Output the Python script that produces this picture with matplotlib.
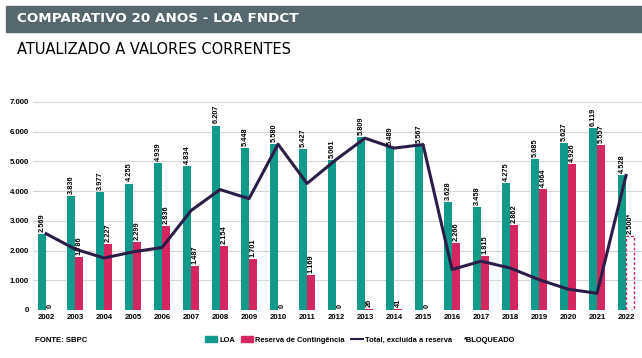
import numpy as np
import matplotlib.pyplot as plt
from matplotlib.patches import Rectangle
from matplotlib.lines import Line2D

# dados (R$ milhões)
anos = [str(a) for a in range(2002, 2023)]
loa = [2569, 3836, 3977, 4255, 4939, 4834, 6207, 5448, 5580, 5427, 5061,
       5809, 5489, 5567, 3628, 3458, 4275, 5085, 5627, 6119, 4528]
reserva = [0, 1786, 2227, 2299, 2836, 1487, 2154, 1701, 0, 1169, 0,
           26, 41, 0, 2266, 1815, 2862, 4064, 4926, 5557]
bloqueado_2022 = 2500
total_sem_reserva = [2569, 2050, 1750, 1956, 2103, 3347, 4053, 3747, 5580, 4258, 5061,
                     5783, 5448, 5567, 1362, 1643, 1413, 1021, 701, 562, 4528]

verde = '#11998a'
rosa = '#d5275f'
azul = '#2b1d47'
cinza = '#56686d'

plt.rcParams['font.family'] = ['Liberation Sans', 'DejaVu Sans']

fig = plt.figure(figsize=(6.42, 3.58), dpi=100)

# faixa do titulo
fig.patches.append(Rectangle((6 / 642, 1 - 32 / 358), 636 / 642, 26 / 358,
                             transform=fig.transFigure, color=cinza, zorder=0))
fig.text(17 / 642, 1 - 19 / 358, 'COMPARATIVO 20 ANOS - LOA FNDCT', color='white',
         fontsize=9.7, fontweight='bold', va='center', ha='left', family='DejaVu Sans')
fig.text(17 / 642, 1 - 50 / 358, 'ATUALIZADO A VALORES CORRENTES', color='black',
         fontsize=10.5, va='center', ha='left', family='DejaVu Sans')

ax = fig.add_axes([33 / 642, 1 - 310 / 358, 609 / 642, 208 / 358])
x = np.arange(len(anos))
w = 0.25
off = 0.14

ax.bar(x - off, loa, w, color=verde, zorder=2)
ax.bar(x[:-1] + off, reserva, w, color=rosa, zorder=2)
ax.bar(x[-1] + off, bloqueado_2022, w, facecolor='none', edgecolor=rosa,
       linestyle=(0, (2, 1.5)), linewidth=1, zorder=2)
ax.plot(x, total_sem_reserva, color=azul, linewidth=2.2, zorder=3)

fs = 5.3
for i, v in enumerate(loa):
    ax.text(x[i] - off, v + 70, f'{v:,}'.replace(',', '.'), rotation=90, ha='center',
            va='bottom', fontsize=fs, fontweight='bold', clip_on=False)
for i, v in enumerate(reserva):
    ax.text(x[i] + off, v + 70, f'{v:,}'.replace(',', '.'), rotation=90, ha='center',
            va='bottom', fontsize=fs, fontweight='bold')
ax.text(x[-1] + off, bloqueado_2022 + 70, '2.500*', rotation=90, ha='center',
        va='bottom', fontsize=fs, fontweight='bold')

ax.set_xlim(-0.45, 20.55)
ax.set_ylim(0, 7000)
ax.set_xticks(x)
ax.set_xticklabels(anos, fontsize=5.6, fontweight='bold')
yt = np.arange(0, 7001, 1000)
ax.set_yticks(yt)
ax.set_yticklabels([f'{v:,}'.replace(',', '.') for v in yt], fontsize=5.6, fontweight='bold')
ax.tick_params(length=0, pad=3)
ax.grid(axis='y', color='#d5d5d5', linewidth=0.8, zorder=0)
for s in ax.spines.values():
    s.set_visible(False)

# legenda
handles = [Rectangle((0, 0), 1, 1, color=verde), Rectangle((0, 0), 1, 1, color=rosa),
           Line2D([0], [0], color=azul, linewidth=1.5)]
fig.legend(handles, ['LOA', 'Reserva de Contingência', 'Total, excluída a reserva'],
           loc='center left', bbox_to_anchor=(205 / 642, 1 - 340 / 358), ncol=3, frameon=False,
           handlelength=1.6, handleheight=0.7, columnspacing=0.8, borderpad=0, borderaxespad=0,
           handletextpad=0.3, prop={'weight': 'bold', 'size': 5.4})
fig.text(464 / 642, 1 - 340 / 358, '*BLOQUEADO', fontsize=5.4, fontweight='bold', va='center')
fig.text(35 / 642, 1 - 340 / 358, 'FONTE: SBPC', fontsize=5.6, fontweight='bold', va='center')

fig.savefig('out.png', dpi=100)
